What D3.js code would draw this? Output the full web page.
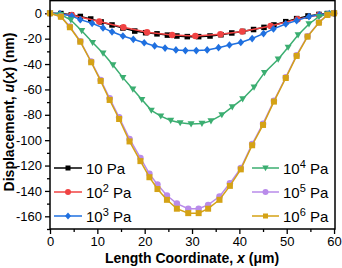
<!DOCTYPE html>
<html><head><meta charset="utf-8">
<script src="https://cdn.jsdelivr.net/npm/d3@7"></script>
<style>body{margin:0;background:#fff}svg{display:block}text{font-family:"Liberation Sans",Arial,sans-serif}</style>
</head><body><svg id="c" width="342" height="268"></svg>
<script>
const xBlack=[0,2.3,4.5,6.4,8.6,10.8,13.1,15.4,17.9,20.2,22.6,24.8,26.8,29.0,31.4,33.8,36.1,38.4,40.7,43.0,45.2,47.3,49.8,52.1,54.5,56.8,58.6,60];
const yBlack=[0,-0.2,-1.2,-2.5,-4.5,-6.8,-9.2,-11.6,-14.0,-15.3,-16.2,-17.2,-17.9,-18.4,-18.4,-17.9,-16.9,-15.5,-14.3,-12.8,-11.1,-9.2,-6.6,-4.2,-2.1,-0.9,-0.2,0];
const xRed=[0,4.6,10.4,15.5,20.5,25.8,30.7,36.0,40.6,46.6,52.3,56.8,60];
const yRed=[0,-1.3,-6.4,-11.0,-15.0,-17.2,-17.9,-16.6,-14.4,-10.0,-4.6,-1.3,0];
const xBlue=[0,2.1,4.6,6.4,8.9,11.2,13.1,15.4,17.6,19.9,22.1,24.3,26.6,28.6,30.9,33.2,35.6,37.9,40.3,42.7,45.1,47.2,49.8,52.1,54.7,56.9,59.0,60];
const yBlue=[0,-0.3,-2.2,-5.0,-7.9,-11.5,-14.6,-17.9,-20.5,-23.2,-25.7,-27.4,-28.9,-29.4,-29.4,-28.9,-27.1,-25.0,-23.0,-19.9,-16.0,-12.3,-8.4,-5.8,-2.6,-1.2,-0.3,0];
const xGreen=[0,2.3,4.4,6.7,9.0,11.2,13.3,15.4,17.5,19.4,21.4,23.4,25.5,27.5,29.8,32.1,34.0,36.3,38.5,40.7,43.1,45.3,48.2,50.3,52.4,54.7,56.8,58.6,60];
const yGreen=[0,-1.0,-5.3,-13.7,-23.1,-31.5,-40.7,-50.7,-59.8,-68.0,-76.5,-81.0,-84.5,-86.3,-87.2,-86.8,-84.8,-80.0,-73.8,-67.5,-58.3,-46.8,-36.2,-26.8,-17.1,-8.4,-2.7,-0.5,0];
const xGold=[0,2.3,4.2,6.4,8.7,10.7,12.6,14.6,16.8,19.1,21.0,22.7,24.7,26.8,29.2,31.4,33.4,35.8,38.0,40.3,42.7,45.0,47.3,49.8,52.1,54.4,56.8,58.6,60];
const yPurple=[0,-2.5,-10.5,-22.0,-38.0,-52.5,-67.0,-82.0,-99.0,-114.0,-126.5,-135.0,-143.6,-150.0,-154.0,-154.0,-151.0,-144.4,-134.0,-122.0,-103.0,-87.0,-69.0,-50.5,-33.0,-18.0,-7.2,-1.2,0];
const yGold=[0,-2.7,-11.0,-22.4,-38.6,-53.3,-68.3,-83.3,-101.0,-116.5,-129.2,-138.5,-147.0,-154.0,-157.5,-157.5,-154.0,-147.0,-136.0,-123.0,-104.0,-88.0,-69.6,-51.0,-33.6,-18.4,-7.4,-1.3,0];
const seriesNames=["10","10","10","10","10","10"];
const seriesSup=["","2","3","4","5","6"];
const xTicks=[0,10,20,30,40,50,60];
const yTicks=[0,-20,-40,-60,-80,-100,-120,-140,-160];

const svg=d3.select("#c");
const L=50,R=335,T=0.6,B=229;
const x=d3.scaleLinear().domain([0,60.2]).range([L,R]);
const y=d3.scaleLinear().domain([-170,10]).range([B,T]);

const series=[
 {xs:xBlack,ys:yBlack,c:"#000000",m:"square",s:5.5},
 {xs:xRed,ys:yRed,c:"#F04343",m:"circle",s:6.5},
 {xs:xBlue,ys:yBlue,c:"#1F70E0",m:"diamond",s:6.5},
 {xs:xGreen,ys:yGreen,c:"#3BAE71",m:"tri",s:7},
 {xs:xGold,ys:yPurple,c:"#B98BEA",m:"circle",s:6.5},
 {xs:xGold,ys:yGold,c:"#D4A215",m:"square",s:6}
];

function marker(g,type,cx,cy,s,c){
  if(type==="square") g.append("rect").attr("x",cx-s/2).attr("y",cy-s/2).attr("width",s).attr("height",s).attr("fill",c);
  else if(type==="circle") g.append("circle").attr("cx",cx).attr("cy",cy).attr("r",s/2).attr("fill",c);
  else if(type==="diamond") g.append("path").attr("d",`M${cx},${cy-s/2-0.6}L${cx+s/2},${cy}L${cx},${cy+s/2+0.6}L${cx-s/2},${cy}Z`).attr("fill",c);
  else if(type==="tri") g.append("path").attr("d",`M${cx-s/2},${cy-s*0.38}L${cx+s/2},${cy-s*0.38}L${cx},${cy+s*0.5}Z`).attr("fill",c);
}

const xAxis=d3.axisBottom(x).tickValues(xTicks).tickSize(5).tickPadding(3).tickFormat(d3.format("d"));
const xMinor=d3.axisBottom(x).tickValues([5,15,25,35,45,55]).tickSize(3).tickFormat("");
const yAxis=d3.axisLeft(y).tickValues(yTicks).tickSize(5).tickPadding(3).tickFormat(d=>d===0?"0":"-"+Math.abs(d));
const yMinor=d3.axisLeft(y).tickValues([-10,-30,-50,-70,-90,-110,-130,-150,-170]).tickSize(3).tickFormat("");

function styleAxis(g){g.select(".domain").remove();g.selectAll("line").attr("stroke","#000").attr("stroke-width",1.3);g.selectAll("text").attr("font-size",13).attr("fill","#000").attr("font-family","Liberation Sans, Arial, sans-serif");}
svg.append("g").attr("transform",`translate(0,${B})`).call(xAxis).call(styleAxis);
svg.append("g").attr("transform",`translate(0,${B})`).call(xMinor).call(styleAxis);
svg.append("g").attr("transform",`translate(${L},0)`).call(yAxis).call(styleAxis);
svg.append("g").attr("transform",`translate(${L},0)`).call(yMinor).call(styleAxis);

const plot=svg.append("g");
series.forEach(sr=>{
  const pts=sr.xs.map((v,i)=>[v,sr.ys[i]]);
  plot.append("path").datum(pts).attr("fill","none").attr("stroke",sr.c).attr("stroke-width",1.5)
   .attr("d",d3.line().x(d=>x(d[0])).y(d=>y(d[1])));
  const mg=plot.append("g");
  pts.forEach(p=>marker(mg,sr.m,x(p[0]),y(p[1]),sr.s,sr.c));
});

svg.append("rect").attr("x",L).attr("y",T).attr("width",R-L).attr("height",B-T).attr("fill","none").attr("stroke","#000").attr("stroke-width",1.5);

const legPos=[[54,168],[54,192],[54,216],[252,168],[252,192],[252,216]];
series.forEach((sr,i)=>{
  const [lx,ly]=legPos[i];
  const len=i<3?28:27;
  svg.append("line").attr("x1",lx).attr("x2",lx+len).attr("y1",ly).attr("y2",ly).attr("stroke",sr.c).attr("stroke-width",1.5);
  const g=svg.append("g");
  marker(g,sr.m,lx+len/2,ly,sr.m==="square"?5:sr.s-0.5,sr.c);
  const t=svg.append("text").attr("x",lx+len+4).attr("y",ly+5.5).attr("font-size",15).attr("fill","#000");
  t.append("tspan").text(seriesNames[i]);
  if(seriesSup[i]) t.append("tspan").attr("font-size",11).attr("dy",-6).text(seriesSup[i]);
  t.append("tspan").attr("dy",seriesSup[i]?6:0).text(" Pa");
});

const xt=svg.append("text").attr("x",192).attr("y",263).attr("text-anchor","middle").attr("font-size",14).attr("font-weight","bold").attr("fill","#000");
xt.append("tspan").text("Length Coordinate, ");
xt.append("tspan").attr("font-style","italic").text("x");
xt.append("tspan").text(" (μm)");
const yt=svg.append("text").attr("transform","translate(14,112) rotate(-90)").attr("text-anchor","middle").attr("font-size",14).attr("font-weight","bold").attr("fill","#000");
yt.append("tspan").text("Displacement, ");
yt.append("tspan").attr("font-style","italic").text("u");
yt.append("tspan").text("(");
yt.append("tspan").attr("font-style","italic").text("x");
yt.append("tspan").text(") (nm)");
</script></body></html>
